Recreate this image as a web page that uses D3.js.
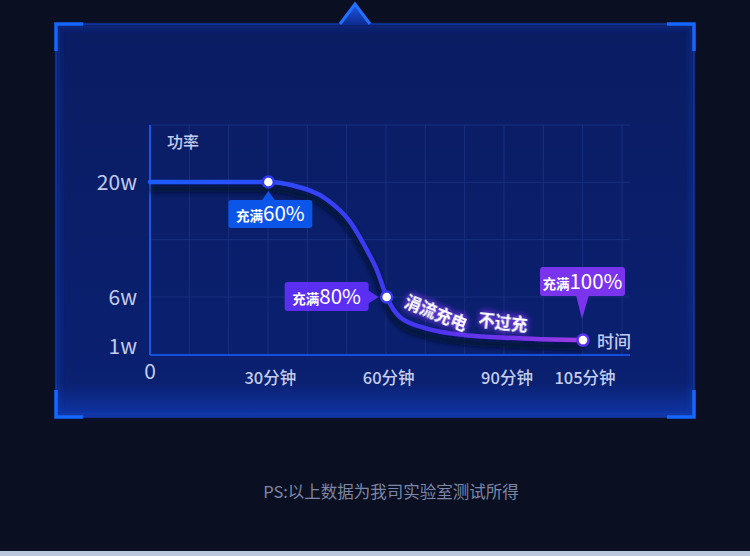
<!DOCTYPE html>
<html>
<head>
<meta charset="utf-8">
<script src="https://cdn.jsdelivr.net/npm/d3@7"></script>
<style>
  html, body { margin: 0; padding: 0; background: #0a0f22; }
  svg { display: block; font-family: "Noto Sans CJK SC", "Noto Sans", sans-serif; }
</style>
</head>
<body>
<div id="chart"></div>
<script>
// charging curve (minutes, watts)
const curveTimes = [0, 30, 36, 45, 50.5, 55, 57.5, 60, 63.5, 70, 80, 90, 97, 105];
const curveWatts = [20, 20, 19.6, 17.8, 15.3, 11.7, 9.3, 6, 3.9, 2.8, 2.1, 1.85, 1.7, 1.6];

// marked points
const markerTimes = [30, 60, 105];
const markerLabels = ['60%', '80%', '100%'];
const markerPrefix = '充满';

// axes
const yTicks = [20, 6, 1];
const xTicks = [30, 60, 90, 105];
const xTickLabels = ['30分钟', '60分钟', '90分钟', '105分钟'];
const yTitle = '功率';
const xTitle = '时间';

const trickleTexts = ['涓流充电', '不过充'];
const trickleTimes = [72.5, 89.5];
const footNote = 'PS:以上数据为我司实验室测试所得';

const width = 750;
const height = 556;

const svg = d3.select('#chart')
    .append('svg')
    .attr('width', width)
    .attr('height', height);

const defs = svg.append('defs');

const panelGrad = defs.append('linearGradient')
    .attr('id', 'panelGrad')
    .attr('x1', 0).attr('y1', 0).attr('x2', 0).attr('y2', 1);
panelGrad.append('stop').attr('offset', '0%').attr('stop-color', '#0a1c62');
panelGrad.append('stop').attr('offset', '91%').attr('stop-color', '#0a2070');
panelGrad.append('stop').attr('offset', '100%').attr('stop-color', '#0f35a6');

const notchGrad = defs.append('linearGradient')
    .attr('id', 'notchGrad')
    .attr('x1', 0).attr('y1', 0).attr('x2', 0).attr('y2', 1);
notchGrad.append('stop').attr('offset', '0%').attr('stop-color', '#1d5cf0');
notchGrad.append('stop').attr('offset', '100%').attr('stop-color', '#0d2a8c');

const lineGrad = defs.append('linearGradient')
    .attr('id', 'lineGrad')
    .attr('gradientUnits', 'userSpaceOnUse')
    .attr('x1', 150).attr('y1', 0).attr('x2', 590).attr('y2', 0);
[['0%', '#1a5cff'], ['26%', '#2b4dff'], ['45%', '#3a3cf2'], ['62%', '#4636ee'],
 ['82%', '#7434ea'], ['100%', '#a83ce2']].forEach(([o, c]) => {
    lineGrad.append('stop').attr('offset', o).attr('stop-color', c);
});

defs.append('filter').attr('id', 'blur').attr('x', '-10%').attr('y', '-50%')
    .attr('width', '120%').attr('height', '200%')
    .append('feGaussianBlur').attr('stdDeviation', 2.5);

const glow = defs.append('filter').attr('id', 'glow')
    .attr('x', '-30%').attr('y', '-60%').attr('width', '160%').attr('height', '220%');
glow.append('feGaussianBlur').attr('in', 'SourceAlpha').attr('stdDeviation', 3.5).attr('result', 'b');
glow.append('feFlood').attr('flood-color', '#8a3cff').attr('flood-opacity', 1).attr('result', 'c');
glow.append('feComposite').attr('in', 'c').attr('in2', 'b').attr('operator', 'in').attr('result', 'g');
const merge = glow.append('feMerge');
merge.append('feMergeNode').attr('in', 'g');
merge.append('feMergeNode').attr('in', 'g');
merge.append('feMergeNode').attr('in', 'SourceGraphic');

// panel
const panel = { left: 56, top: 24, right: 694, bottom: 417 };

svg.append('rect')
    .attr('x', panel.left).attr('y', panel.top)
    .attr('width', panel.right - panel.left)
    .attr('height', panel.bottom - panel.top)
    .attr('fill', 'url(#panelGrad)')
    .attr('stroke', '#1538a6')
    .attr('stroke-width', 1.5);

svg.append('rect')
    .attr('x', panel.left + 3).attr('y', panel.top + 3)
    .attr('width', panel.right - panel.left - 6)
    .attr('height', panel.bottom - panel.top - 6)
    .attr('fill', 'none')
    .attr('stroke', '#1742b8')
    .attr('stroke-opacity', 0.3)
    .attr('stroke-width', 5)
    .attr('filter', 'url(#blur)');

// top notch
svg.append('path')
    .attr('d', 'M338,25 L355,3 L372,25 Z')
    .attr('fill', 'url(#notchGrad)');
svg.append('path')
    .attr('d', 'M340,24 L355,4 L370,24')
    .attr('fill', 'none')
    .attr('stroke', '#2270ff')
    .attr('stroke-width', 3);

// corner brackets
const arm = 27;
const corners = [
    [panel.left, panel.top, 1, 1],
    [panel.right, panel.top, -1, 1],
    [panel.left, panel.bottom, 1, -1],
    [panel.right, panel.bottom, -1, -1]
];
svg.append('g')
    .selectAll('path')
    .data(corners)
    .join('path')
    .attr('d', ([x, y, dx, dy]) => `M${x + dx * arm},${y} L${x},${y} L${x},${y + dy * arm}`)
    .attr('fill', 'none')
    .attr('stroke', '#1467ff')
    .attr('stroke-width', 3.5);

// scales
const plot = { left: 150, right: 630, top: 125, bottom: 355 };

const xScale = d3.scaleLinear()
    .domain([0, 90, 105])
    .range([plot.left, 505, 583]);

const yScale = d3.scaleLinear()
    .domain([0, 1, 6, 20])
    .range([plot.bottom, 346, 297, 182]);

// grid
const gridX = d3.scaleLinear().domain([0, 12]).range([plot.left, 622]);
const gridY = d3.scaleLinear().domain([0, 3]).range([plot.top, 297]);

const grid = svg.append('g').attr('stroke', '#18307f').attr('stroke-width', 1);
grid.selectAll('line.v')
    .data(d3.range(1, 13))
    .join('line')
    .attr('class', 'v')
    .attr('x1', d => gridX(d)).attr('x2', d => gridX(d))
    .attr('y1', plot.top).attr('y2', plot.bottom);
grid.selectAll('line.h')
    .data(d3.range(0, 4))
    .join('line')
    .attr('class', 'h')
    .attr('x1', plot.left).attr('x2', plot.right)
    .attr('y1', d => gridY(d)).attr('y2', d => gridY(d));

// axis lines
svg.append('line')
    .attr('x1', plot.left).attr('x2', plot.left)
    .attr('y1', plot.top).attr('y2', plot.bottom)
    .attr('stroke', '#1a55ea').attr('stroke-width', 2);
svg.append('line')
    .attr('x1', plot.left).attr('x2', plot.right)
    .attr('y1', plot.bottom).attr('y2', plot.bottom)
    .attr('stroke', '#1550dc').attr('stroke-width', 2);

// tick labels
svg.append('g')
    .selectAll('text')
    .data(yTicks)
    .join('text')
    .attr('x', 137)
    .attr('y', d => yScale(d))
    .attr('dy', '0.36em')
    .attr('text-anchor', 'end')
    .attr('fill', '#c3cdef')
    .attr('font-size', 21)
    .text(d => d + 'w');

svg.append('text')
    .attr('x', plot.left)
    .attr('y', 379)
    .attr('text-anchor', 'middle')
    .attr('fill', '#c3cdef')
    .attr('font-size', 21)
    .text('0');

svg.append('g')
    .selectAll('text')
    .data(xTicks)
    .join('text')
    .attr('x', d => xScale(d) + 2)
    .attr('y', 384)
    .attr('text-anchor', 'middle')
    .attr('fill', '#c3cdef')
    .attr('font-size', 16.5)
    .attr('font-weight', 500)
    .text((d, i) => xTickLabels[i]);

svg.append('text')
    .attr('x', 167).attr('y', 148)
    .attr('fill', '#c3cdef')
    .attr('font-size', 16)
    .attr('font-weight', 500)
    .text(yTitle);

svg.append('text')
    .attr('x', 597).attr('y', 348)
    .attr('fill', '#c3cdef')
    .attr('font-size', 17)
    .attr('font-weight', 500)
    .text(xTitle);

// curve
const points = curveTimes.map((t, i) => [t, curveWatts[i]]);
const line = d3.line()
    .x(d => xScale(d[0]))
    .y(d => yScale(d[1]))
    .curve(d3.curveMonotoneX);

svg.append('path')
    .datum(points)
    .attr('d', line)
    .attr('transform', 'translate(0,7)')
    .attr('fill', 'none')
    .attr('stroke', '#030926')
    .attr('stroke-opacity', 0.75)
    .attr('stroke-width', 7)
    .attr('filter', 'url(#blur)');

svg.append('path')
    .datum(points)
    .attr('d', line)
    .attr('fill', 'none')
    .attr('stroke', 'url(#lineGrad)')
    .attr('stroke-width', 4.5)
    .attr('stroke-linecap', 'round');

// trickle text along the curve
const wattAt = d3.scaleLinear().domain(curveTimes).range(curveWatts);
const trickleRotate = [22, 6];
const trickleLift = [17, 15];
svg.append('g')
    .selectAll('text')
    .data(trickleTexts)
    .join('text')
    .attr('transform', (d, i) => {
        const t = trickleTimes[i];
        return `translate(${xScale(t)},${yScale(wattAt(t)) - trickleLift[i]}) rotate(${trickleRotate[i]})`;
    })
    .attr('text-anchor', 'middle')
    .attr('dy', '0.35em')
    .attr('fill', '#ffffff')
    .attr('font-size', 16.5)
    .attr('font-weight', 700)
    .attr('filter', 'url(#glow)')
    .text(d => d);

// marker labels
const boxColors = ['#0b55e8', '#5a2ff2', '#7a34ee'];
const boxLayout = [
    { dx: -40, dy: 18, w: 84, h: 28, tip: (x, y) => `M${x - 7},${y + 19} L${x},${y + 9} L${x + 7},${y + 19} Z` },
    { dx: -102, dy: -15, w: 84, h: 29, tip: (x, y) => `M${x - 19},${y - 7} L${x - 8},${y} L${x - 19},${y + 7} Z` },
    { dx: -43, dy: -73, w: 85, h: 29, tip: (x, y) => `M${x - 7},${y - 45} L${x + 6},${y - 45} L${x - 1},${y - 21} Z` }
];

const labels = svg.append('g')
    .selectAll('g')
    .data(markerTimes)
    .join('g');

labels.each(function (t, i) {
    const g = d3.select(this);
    const cx = xScale(t);
    const cy = yScale(wattAt(t));
    const b = boxLayout[i];
    g.append('path').attr('d', b.tip(cx, cy)).attr('fill', boxColors[i]);
    g.append('rect')
        .attr('x', cx + b.dx).attr('y', cy + b.dy)
        .attr('width', b.w).attr('height', b.h)
        .attr('rx', 3)
        .attr('fill', boxColors[i]);
    const txt = g.append('text')
        .attr('x', cx + b.dx + b.w / 2)
        .attr('y', cy + b.dy + b.h / 2 + 7)
        .attr('text-anchor', 'middle')
        .attr('fill', '#ffffff');
    txt.append('tspan').attr('font-size', 13.5).attr('font-weight', 700).text(markerPrefix);
    txt.append('tspan').attr('font-size', 20.5).text(markerLabels[i]);
});

// dots
svg.append('g')
    .selectAll('circle')
    .data(markerTimes)
    .join('circle')
    .attr('cx', d => xScale(d))
    .attr('cy', d => yScale(wattAt(d)))
    .attr('r', 5.5)
    .attr('fill', '#ffffff')
    .attr('stroke', (d, i) => ['#2f3cf0', '#3a3af0', '#5a32ee'][i])
    .attr('stroke-width', 2.5);

// footnote
svg.append('text')
    .attr('x', 391).attr('y', 498)
    .attr('text-anchor', 'middle')
    .attr('fill', '#7d87a6')
    .attr('font-size', 16.5)
    .text(footNote);

svg.append('rect')
    .attr('x', 0).attr('y', 551)
    .attr('width', width).attr('height', 5)
    .attr('fill', '#b9c6dc');
</script>
</body>
</html>
